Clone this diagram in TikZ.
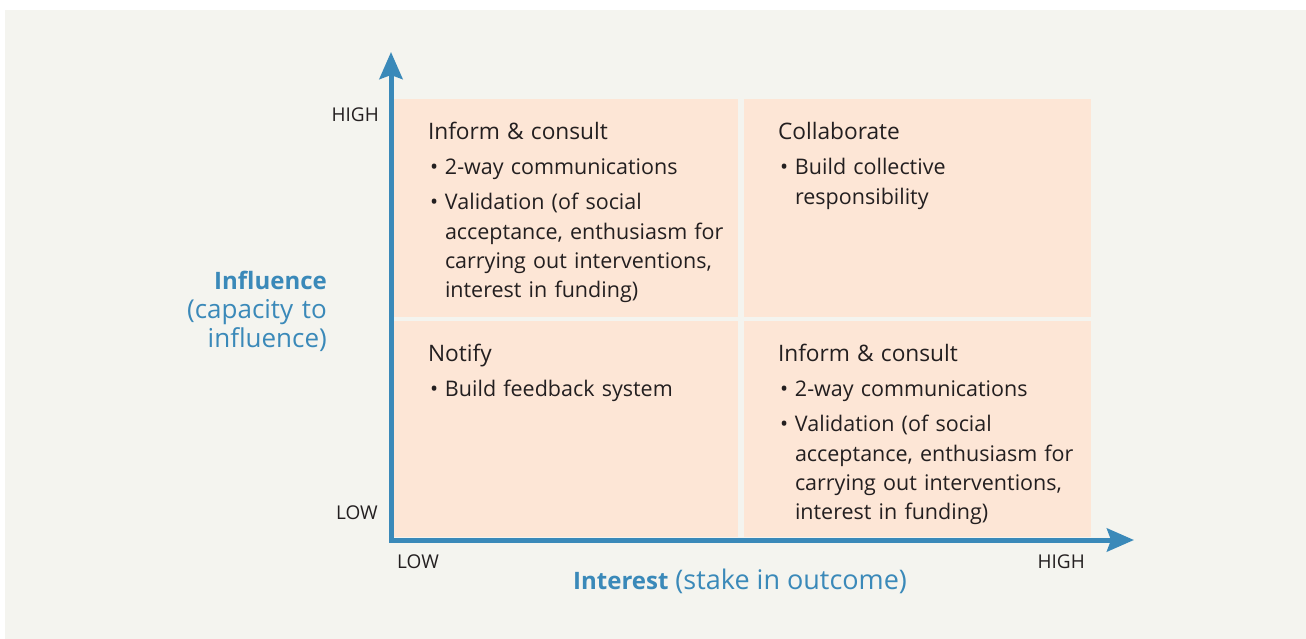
\documentclass[tikz,border=0pt]{standalone}
\usepackage{fontspec}
\setmainfont{Open Sans}
\usepackage{tikz}
\usetikzlibrary{arrows.meta}
\definecolor{panelgray}{HTML}{F4F4EF}
\definecolor{quadpink}{HTML}{FDE6D6}
\definecolor{axisblue}{HTML}{3A89B9}
\definecolor{inkdark}{HTML}{231F20}
\setlength{\parindent}{0pt}
\newcommand{\cellfont}{\fontsize{21.5pt}{29.3pt}\selectfont\setlength{\parskip}{5.7pt}\setlength{\parindent}{0pt}\raggedright}
\newcommand{\celltitle}[1]{{\fontsize{22.7pt}{29.3pt}\selectfont #1\par}}
\newcommand{\bitem}[1]{\par\hangindent=17pt\hangafter=1\makebox[17pt][l]{\hspace{2pt}•}#1\par}
\tikzstyle{quad} = [rectangle, fill=quadpink, inner sep=0pt, minimum width=344pt, minimum height=218pt]
\tikzstyle{celltext} = [anchor=base west, inner sep=0pt, text width=330pt, text=inkdark, font=\cellfont]
\tikzstyle{tick} = [inner sep=0pt, text=inkdark, font=\fontsize{19pt}{22pt}\selectfont]
\tikzstyle{axistitle} = [inner sep=0pt, text=axisblue, font=\fontsize{26pt}{29pt}\selectfont]
\tikzstyle{axis} = [draw=axisblue, line width=5pt, line join=miter,
    {Stealth[length=27pt, width=23pt, inset=4pt]}-{Stealth[length=27pt, width=23pt, inset=4pt]}]

\begin{document}
\begin{tikzpicture}[x=1pt, y=-1pt]
      \useasboundingbox [fill=white] (0,0) rectangle (1306,639);
      \fill [panelgray] (5,10) rectangle (1306,639);

      \node [quad] (tl) at (566,208) {};
      \node [quad, right of=tl, node distance=351.5pt, minimum width=347pt] (tr) {};
      \node [quad, below of=tl, node distance=221pt, minimum height=216pt] (bl) {};
      \node [quad, right of=bl, node distance=351.5pt, minimum width=347pt, minimum height=216pt] (br) {};

      \node [celltext] (tltext) at ([shift={(34pt,-41pt)}]tl.north west)
         {\celltitle{Inform \& consult}\bitem{2-way communications}%
          \bitem{Validation (of social\newline acceptance, enthusiasm for\newline
          carrying out interventions,\newline interest in funding)}};
      \node [celltext] (trtext) at ([shift={(34pt,-41pt)}]tr.north west)
         {\celltitle{Collaborate}\bitem{Build collective\newline responsibility}};
      \node [celltext] (bltext) at ([shift={(34pt,-41pt)}]bl.north west)
         {\celltitle{Notify}\bitem{Build feedback system}};
      \node [celltext] (brtext) at ([shift={(34pt,-41pt)}]br.north west)
         {\celltitle{Inform \& consult}\bitem{2-way communications}%
          \bitem{Validation (of social\newline acceptance, enthusiasm for\newline
          carrying out interventions,\newline interest in funding)}};

      \coordinate (origin) at (391,540);
      \coordinate (ytip) at (391,52);
      \coordinate (xtip) at (1134,540);
      \path [axis] (ytip) -- (origin) -- (xtip);

      \node [tick, anchor=base east] (yhigh) at (379,122) {HIGH};
      \node [tick, anchor=base east] (ylow) at (378,519) {LOW};
      \node [tick, anchor=base west] (xlow) at (397,568) {LOW};
      \node [tick, anchor=base east] (xhigh) at (1085,568) {HIGH};

      \node [axistitle, anchor=base east, text width=220pt, align=right] (inflabel) at (327,289)
         {{\fontsize{24pt}{29pt}\selectfont\bfseries Influence}\\(capacity to\\influence)};
      \node [axistitle, anchor=base west] (intlabel) at (573,589)
         {{\fontsize{24pt}{29pt}\selectfont\bfseries Interest}\fontsize{27pt}{29pt}\selectfont{} (stake in outcome)};
\end{tikzpicture}
\end{document}
